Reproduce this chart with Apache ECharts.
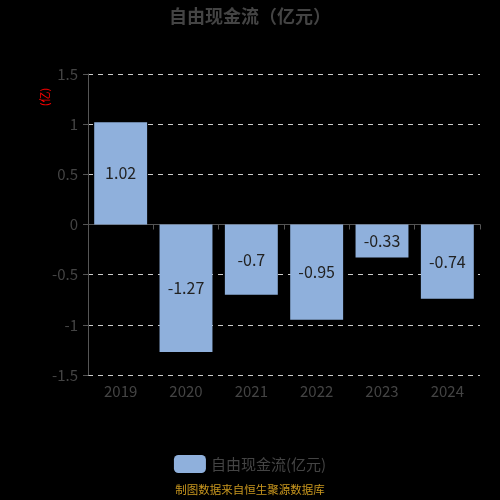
<!DOCTYPE html>
<html>
<head>
<meta charset="utf-8">
<script src="https://cdn.jsdelivr.net/npm/echarts@6/dist/echarts.min.js"></script>
<style>
html,body{margin:0;padding:0;background:#000;}
#main{width:500px;height:500px;}
</style>
</head>
<body>
<div id="main"></div>
<script>
const categories = ['2019', '2020', '2021', '2022', '2023', '2024'];
const freeCashFlow = [1.02, -1.27, -0.7, -0.95, -0.33, -0.74];
const yTicks = { min: -1.5, max: 1.5, interval: 0.5 };
const seriesName = '自由现金流(亿元)';
const titleText = '自由现金流（亿元）';
const footerText = '制图数据来自恒生聚源数据库';
const unitText = '(亿)';

const FONT = 'Noto Sans CJK SC';
const chart = echarts.init(document.getElementById('main'));
chart.setOption({
  backgroundColor: '#000',
  textStyle: { fontFamily: FONT },
  title: [
    { text: titleText, left: 'center', top: 2,
      textStyle: { color: '#444', fontSize: 18, fontWeight: 'bold', fontFamily: FONT } },
    { text: footerText, left: 'center', bottom: 0,
      textStyle: { color: '#c8961e', fontSize: 11.5, fontWeight: 'normal', fontFamily: FONT } }
  ],
  graphic: [{
    type: 'text', x: 45, y: 97, rotation: Math.PI / 2,
    style: { text: unitText, fill: '#ff0000', fontSize: 11, align: 'center', verticalAlign: 'middle', fontFamily: FONT }
  }],
  legend: {
    top: 450, left: 'center',
    itemWidth: 32, itemHeight: 18,
    itemGap: 10,
    itemStyle: { borderRadius: 4 },
    textStyle: { color: '#444', fontSize: 15, fontFamily: FONT },
    data: [seriesName]
  },
  grid: { left: 88, right: 20, top: 74, bottom: 125 },
  xAxis: [{
    type: 'category', data: categories, position: 'bottom',
    axisLine: { onZero: true, lineStyle: { color: '#555' } },
    axisTick: { show: true, lineStyle: { color: '#555' } },
    axisLabel: { show: false }
  }, {
    type: 'category', data: categories, position: 'bottom',
    axisLine: { show: false, onZero: false },
    axisTick: { show: false },
    axisLabel: { color: '#444', fontSize: 15, margin: 9, fontFamily: FONT }
  }],
  yAxis: {
    type: 'value', min: yTicks.min, max: yTicks.max, interval: yTicks.interval,
    axisLine: { show: true, lineStyle: { color: '#555' } },
    axisTick: { show: true, length: 5, lineStyle: { color: '#555' } },
    axisLabel: { color: '#444', fontSize: 15, margin: 10, fontFamily: FONT },
    splitLine: { show: true, lineStyle: { color: '#ccc', type: [5, 5], width: 1 } }
  },
  series: [{
    name: seriesName, type: 'bar', data: freeCashFlow, xAxisIndex: 0,
    barWidth: '81%',
    itemStyle: { color: '#8fb0dc' },
    label: { show: true, position: 'inside', color: '#222', fontSize: 16, fontFamily: FONT }
  }]
});
</script>
</body>
</html>
